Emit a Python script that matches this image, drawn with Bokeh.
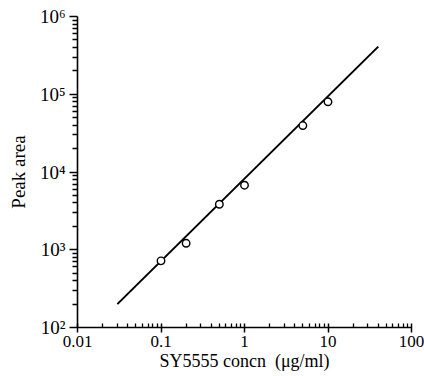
from bokeh.plotting import figure
from bokeh.models import FixedTicker, CustomJSTickFormatter, ColumnDataSource
from bokeh.embed import file_html
from bokeh.resources import INLINE

# data
conc = [0.1, 0.2, 0.5, 1, 5, 10]
peak_area = [720, 1210, 3850, 6760, 39600, 80000]
fit_x = [0.03, 40]
fit_y = [200, 410000]

x_major = [0.01, 0.1, 1, 10, 100]
y_major = [1e2, 1e3, 1e4, 1e5, 1e6]
x_minor = [m * d for d in [0.01, 0.1, 1, 10] for m in range(2, 10)]
y_minor = [m * d for d in [1e2, 1e3, 1e4, 1e5] for m in range(2, 10)]

FONT = "Liberation Serif"

p = figure(width=424, height=376, x_axis_type="log", y_axis_type="log",
           x_range=(0.01, 100), y_range=(1e2, 1e6),
           output_backend="svg", toolbar_location=None,
           min_border_left=77, min_border_right=13, min_border_top=16, min_border_bottom=49)
p.outline_line_color = None
p.xgrid.visible = False
p.ygrid.visible = False
p.background_fill_color = "white"
p.border_fill_color = "white"

p.line(fit_x, fit_y, line_color="black", line_width=2)
src = ColumnDataSource(dict(x=conc, y=peak_area))
p.scatter("x", "y", source=src, size=7.5, fill_color="white", line_color="black", line_width=1.4)

xa = p.xaxis[0]
xa.ticker = FixedTicker(ticks=x_major, minor_ticks=x_minor)
xa.formatter = CustomJSTickFormatter(code="return tick < 1 ? tick.toString() : tick.toFixed(0);")
xa.axis_label = "SY5555 concn\u00a0\u00a0(μg/ml)"
xa.axis_line_color = "black"
xa.axis_line_width = 1.6
xa.major_tick_in = 4
xa.major_tick_out = 5
xa.minor_tick_in = 4
xa.minor_tick_out = 0
xa.major_tick_line_width = 1.5
xa.minor_tick_line_width = 1.3
xa.major_label_standoff = 3
xa.axis_label_standoff = 1
xa.major_label_text_font = FONT
xa.major_label_text_font_size = "17px"
xa.major_label_text_color = "black"
xa.axis_label_text_font = FONT
xa.axis_label_text_font_style = "normal"
xa.axis_label_text_font_size = "18px"
xa.axis_label_text_color = "black"

ya = p.yaxis[0]
ya.ticker = FixedTicker(ticks=y_major, minor_ticks=y_minor)
ya.formatter = CustomJSTickFormatter(code="""
const e = Math.round(Math.log10(tick));
const sup = "\u2070\u00b9\u00b2\u00b3\u2074\u2075\u2076\u2077\u2078\u2079";
return "10" + String(e).split('').map(d => sup[parseInt(d)]).join('');
""")
ya.axis_label = "Peak area"
ya.axis_line_color = "black"
ya.axis_line_width = 1.6
ya.major_tick_in = 0
ya.major_tick_out = 8
ya.minor_tick_in = 0
ya.minor_tick_out = 5
ya.major_tick_line_width = 1.5
ya.minor_tick_line_width = 1.3
ya.major_label_standoff = 4
ya.axis_label_standoff = 8
ya.major_label_text_font = FONT
ya.major_label_text_font_size = "19px"
ya.major_label_text_color = "black"
ya.axis_label_text_font = FONT
ya.axis_label_text_font_style = "normal"
ya.axis_label_text_font_size = "19px"
ya.axis_label_text_color = "black"

open("out.html", "w").write(file_html(p, INLINE))
